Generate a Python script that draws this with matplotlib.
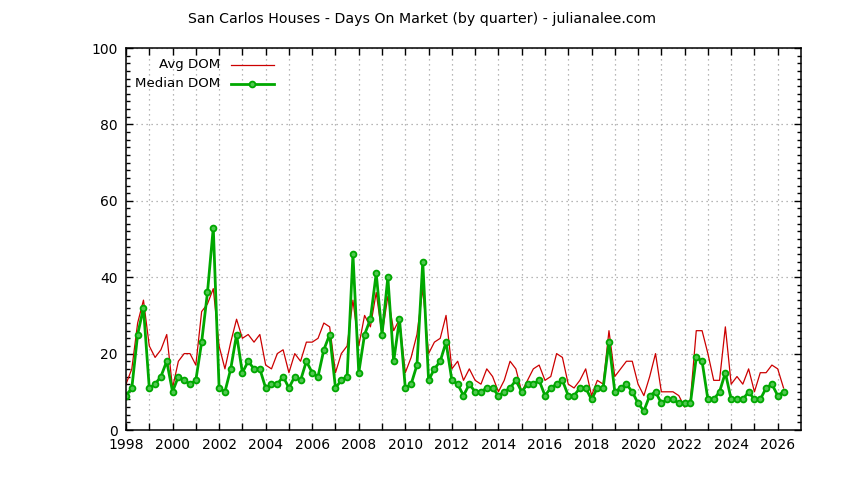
import matplotlib
matplotlib.use("Agg")
import matplotlib.pyplot as plt
import numpy as np
from matplotlib.ticker import MultipleLocator

# quarterly data, first quarter 1998 onwards
start_year = 1998
avg_dom = [12, 16, 28, 34, 22, 19, 21, 25, 11, 18, 20, 20, 17, 31, 33, 37, 22, 16, 23, 29,
           24, 25, 23, 25, 17, 16, 20, 21, 15, 20, 18, 23, 23, 24, 28, 27, 15, 20, 22, 34,
           22, 30, 27, 36, 25, 35, 26, 29, 15, 19, 25, 37, 20, 23, 24, 30, 16, 18, 13, 16,
           13, 12, 16, 14, 10, 13, 18, 16, 10, 13, 16, 17, 13, 14, 20, 19, 12, 11, 13, 16,
           9, 13, 12, 26, 14, 16, 18, 18, 12, 9, 14, 20, 10, 10, 10, 9, 6, 8, 26, 26,
           20, 13, 13, 27, 12, 14, 12, 16, 10, 15, 15, 17, 16, 11]
median_dom = [9, 11, 25, 32, 11, 12, 14, 18, 10, 14, 13, 12, 13, 23, 36, 53, 11, 10, 16, 25,
              15, 18, 16, 16, 11, 12, 12, 14, 11, 14, 13, 18, 15, 14, 21, 25, 11, 13, 14, 46,
              15, 25, 29, 41, 25, 40, 18, 29, 11, 12, 17, 44, 13, 16, 18, 23, 13, 12, 9, 12,
              10, 10, 11, 11, 9, 10, 11, 13, 10, 12, 12, 13, 9, 11, 12, 13, 9, 9, 11, 11,
              8, 11, 11, 23, 10, 11, 12, 10, 7, 5, 9, 10, 7, 8, 8, 7, 7, 7, 19, 18,
              8, 8, 10, 15, 8, 8, 8, 10, 8, 8, 11, 12, 9, 10]

quarters = start_year + 0.25 * np.arange(len(avg_dom))

plt.rcParams['font.family'] = ['DejaVu Sans']
plt.rcParams['font.size'] = 10

red = '#cc0000'
green = '#00a800'
avg_style = dict(color=red, lw=0.9)
med_style = dict(color=green, lw=2.0, marker='o', ms=4.2, mfc='#50c850',
                 mec=green, mew=1.3)

fig = plt.figure(figsize=(8.44, 4.8), dpi=100)
ax = fig.add_axes([126 / 844, 1 - 430 / 480, 675 / 844, 382 / 480])

ax.plot(quarters, avg_dom, **avg_style)
ax.plot(quarters, median_dom, **med_style)

ax.set_xlim(1998, 2027)
ax.set_ylim(0, 100)

years = np.arange(1998, 2027)
ax.set_xticks(years)
ax.set_xticklabels([str(y) if y % 2 == 0 else '' for y in years])
ax.yaxis.set_major_locator(MultipleLocator(20))
ax.yaxis.set_minor_locator(MultipleLocator(2))

ax.tick_params(which='both', direction='in', top=True, right=True, width=1)
ax.tick_params(which='major', length=5, pad=6)
ax.tick_params(which='minor', length=3)
for s in ax.spines.values():
    s.set_linewidth(1.1)

ax.grid(True, which='major', color='#a0a0a0', linestyle=(0, (1, 3)), linewidth=0.9)

fig.text(0.5, 1 - 19 / 480, 'San Carlos Houses - Days On Market (by quarter) - julianalee.com',
         ha='center', va='center', fontsize=10.2)

# gnuplot style key: label right aligned, sample to the right
key_rows = [('Avg DOM', avg_style, 0.9555), ('Median DOM', med_style, 0.9058)]
for label, style, ky in key_rows:
    ax.text(0.139, ky, label, transform=ax.transAxes, ha='right', va='center', fontsize=9.6)
    st = dict(style)
    st.pop('marker', None)
    ax.plot([0.1556, 0.2193], [ky, ky], transform=ax.transAxes, clip_on=False, **st)
    if 'marker' in style:
        ax.plot([0.1874], [ky], transform=ax.transAxes, ls='none', **{k: v for k, v in style.items() if k != 'lw'})

fig.savefig('out.png', dpi=100)
